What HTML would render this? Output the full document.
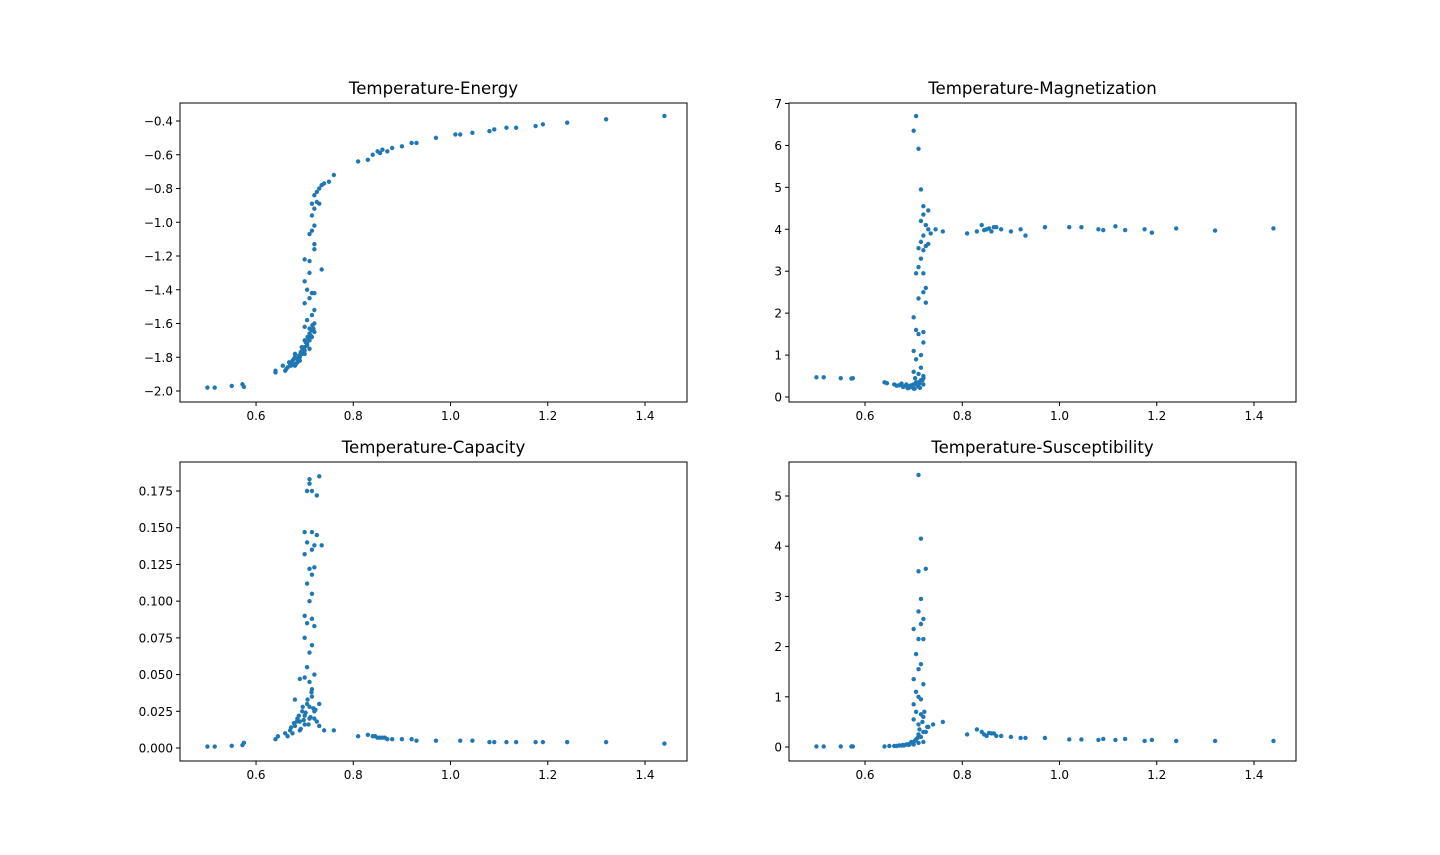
<!DOCTYPE html>
<html><head><meta charset="utf-8">
<style>
html,body{margin:0;padding:0;background:#fff;}
svg{display:block;font-family:"DejaVu Sans","Liberation Sans",sans-serif;}
</style></head>
<body>
<svg id="fig" width="1440" height="855" viewBox="0 0 1440 855" xmlns="http://www.w3.org/2000/svg"></svg>
<script>
const xTicks=[0.6,0.8,1.0,1.2,1.4];
const xTickLabels=["0.6","0.8","1.0","1.2","1.4"];

const energyT=[0.50,0.515,0.55,0.572,0.575,0.64,0.64,0.655,0.66,0.67,0.675,0.68,0.685,0.69,0.695,0.70,0.705,0.71,0.715,0.72,0.70,0.71,0.69,0.68,0.72,0.71,0.70,0.705,0.715,0.72,0.70,0.71,0.715,0.705,0.72,0.70,0.71,0.735,0.70,0.71,0.72,0.72,0.71,0.715,0.72,0.715,0.72,0.715,0.725,0.73,0.72,0.725,0.73,0.735,0.74,0.75,0.76,0.81,0.83,0.84,0.85,0.855,0.86,0.87,0.88,0.90,0.92,0.93,0.97,1.01,1.02,1.045,1.08,1.09,1.115,1.135,1.175,1.19,1.24,1.32,1.44,0.665,0.675,0.685,0.695,0.70,0.705,0.69,0.68,0.70,0.71,0.672,0.678,0.688,0.692,0.698,0.702,0.708,0.712,0.718,0.682,0.694,0.706,0.714,0.716,0.662,0.668];
const energyE=[-1.98,-1.98,-1.97,-1.96,-1.975,-1.88,-1.89,-1.85,-1.88,-1.84,-1.82,-1.80,-1.83,-1.79,-1.76,-1.74,-1.72,-1.70,-1.68,-1.65,-1.78,-1.75,-1.82,-1.85,-1.60,-1.63,-1.62,-1.58,-1.55,-1.52,-1.48,-1.45,-1.42,-1.40,-1.42,-1.35,-1.30,-1.28,-1.22,-1.23,-1.16,-1.13,-1.07,-1.05,-1.02,-0.96,-0.92,-0.89,-0.88,-0.89,-0.84,-0.82,-0.80,-0.78,-0.77,-0.76,-0.72,-0.64,-0.63,-0.60,-0.58,-0.59,-0.57,-0.58,-0.56,-0.55,-0.53,-0.53,-0.50,-0.48,-0.48,-0.47,-0.46,-0.45,-0.44,-0.44,-0.43,-0.42,-0.41,-0.39,-0.37,-1.86,-1.83,-1.81,-1.78,-1.76,-1.73,-1.80,-1.78,-1.70,-1.66,-1.85,-1.81,-1.79,-1.77,-1.75,-1.71,-1.69,-1.67,-1.63,-1.84,-1.74,-1.68,-1.64,-1.61,-1.87,-1.83];

const magT=[0.50,0.515,0.55,0.572,0.575,0.64,0.645,0.66,0.67,0.68,0.69,0.70,0.71,0.72,0.675,0.695,0.705,0.715,0.72,0.71,0.70,0.715,0.705,0.715,0.70,0.72,0.71,0.705,0.72,0.70,0.71,0.725,0.72,0.725,0.705,0.72,0.71,0.715,0.72,0.71,0.725,0.73,0.715,0.72,0.735,0.73,0.725,0.715,0.72,0.73,0.72,0.715,0.71,0.70,0.705,0.745,0.76,0.81,0.83,0.84,0.85,0.86,0.87,0.88,0.90,0.92,0.93,0.97,1.02,1.045,1.08,1.09,1.115,1.135,1.175,1.19,1.24,1.32,1.44,0.685,0.695,0.70,0.71,0.72,0.665,0.678,0.688,0.692,0.698,0.702,0.708,0.712,0.718,0.703,0.713,0.845,0.855,0.865];
const magM=[0.47,0.47,0.45,0.44,0.45,0.35,0.33,0.30,0.28,0.25,0.22,0.20,0.25,0.30,0.32,0.28,0.35,0.40,0.50,0.55,0.60,0.70,0.90,1.00,1.10,1.30,1.50,1.60,1.55,1.90,2.35,2.25,2.50,2.60,2.95,2.95,3.10,3.30,3.50,3.55,3.60,3.65,3.70,3.85,3.90,4.00,4.10,4.20,4.35,4.45,4.55,4.95,5.92,6.35,6.70,4.00,3.95,3.90,3.95,4.10,4.00,3.95,4.05,4.00,3.95,4.00,3.85,4.05,4.05,4.05,4.00,3.98,4.07,3.98,4.00,3.92,4.02,3.97,4.02,0.30,0.25,0.30,0.35,0.45,0.27,0.24,0.21,0.26,0.23,0.20,0.28,0.33,0.40,0.45,0.22,3.98,4.02,4.05];

const capT=[0.50,0.515,0.55,0.572,0.575,0.64,0.645,0.66,0.67,0.68,0.685,0.69,0.695,0.70,0.705,0.71,0.715,0.72,0.725,0.73,0.74,0.76,0.68,0.69,0.70,0.71,0.715,0.705,0.72,0.71,0.70,0.715,0.705,0.715,0.70,0.72,0.71,0.715,0.705,0.715,0.71,0.72,0.70,0.705,0.715,0.72,0.735,0.70,0.715,0.725,0.705,0.715,0.71,0.71,0.725,0.73,0.81,0.83,0.84,0.85,0.86,0.87,0.88,0.90,0.92,0.93,0.97,1.02,1.045,1.08,1.09,1.115,1.135,1.175,1.19,1.24,1.32,1.44,0.675,0.69,0.70,0.71,0.72,0.73,0.665,0.672,0.678,0.688,0.692,0.698,0.702,0.708,0.712,0.718,0.722,0.684,0.696,0.706,0.714,0.845,0.855,0.865];
const capC=[0.001,0.001,0.0015,0.002,0.0035,0.006,0.008,0.010,0.012,0.015,0.020,0.018,0.025,0.022,0.030,0.028,0.035,0.020,0.018,0.015,0.012,0.012,0.033,0.047,0.048,0.045,0.040,0.055,0.050,0.065,0.075,0.070,0.085,0.088,0.090,0.083,0.100,0.105,0.112,0.118,0.122,0.123,0.132,0.140,0.135,0.138,0.138,0.147,0.147,0.145,0.175,0.175,0.180,0.183,0.172,0.185,0.008,0.009,0.008,0.007,0.007,0.006,0.006,0.006,0.006,0.005,0.005,0.005,0.005,0.004,0.004,0.004,0.004,0.004,0.004,0.004,0.004,0.003,0.010,0.012,0.016,0.020,0.025,0.030,0.008,0.014,0.017,0.022,0.013,0.019,0.024,0.016,0.021,0.027,0.026,0.018,0.028,0.033,0.038,0.008,0.007,0.007];

const susT=[0.50,0.515,0.55,0.572,0.575,0.64,0.65,0.66,0.67,0.68,0.69,0.70,0.71,0.72,0.685,0.695,0.705,0.715,0.72,0.71,0.70,0.715,0.705,0.72,0.73,0.74,0.76,0.70,0.71,0.715,0.705,0.72,0.70,0.71,0.715,0.705,0.72,0.71,0.70,0.715,0.72,0.71,0.715,0.725,0.71,0.715,0.71,0.81,0.83,0.84,0.85,0.855,0.86,0.87,0.88,0.90,0.92,0.93,0.97,1.02,1.045,1.08,1.09,1.115,1.135,1.175,1.19,1.24,1.32,1.44,0.675,0.695,0.71,0.725,0.665,0.678,0.688,0.692,0.698,0.702,0.708,0.712,0.718,0.722,0.728,0.845,0.865];
const susX=[0.01,0.01,0.01,0.01,0.01,0.01,0.02,0.02,0.03,0.03,0.04,0.05,0.08,0.10,0.05,0.10,0.15,0.20,0.30,0.45,0.55,0.65,0.70,0.60,0.40,0.45,0.50,0.85,1.00,0.95,1.10,1.25,1.35,1.55,1.65,1.85,2.15,2.15,2.35,2.45,2.55,2.70,2.95,3.55,3.50,4.15,5.42,0.25,0.35,0.30,0.22,0.28,0.27,0.22,0.22,0.20,0.18,0.18,0.18,0.15,0.15,0.14,0.16,0.14,0.16,0.12,0.14,0.12,0.12,0.12,0.03,0.08,0.25,0.30,0.02,0.04,0.05,0.06,0.08,0.12,0.18,0.35,0.50,0.70,0.40,0.25,0.27];

const energyTicks=[-2.0,-1.8,-1.6,-1.4,-1.2,-1.0,-0.8,-0.6,-0.4];
const energyTickLabels=["\u22122.0","\u22121.8","\u22121.6","\u22121.4","\u22121.2","\u22121.0","\u22120.8","\u22120.6","\u22120.4"];
const magTicks=[0,1,2,3,4,5,6,7];
const magTickLabels=["0","1","2","3","4","5","6","7"];
const capTicks=[0,0.025,0.05,0.075,0.1,0.125,0.15,0.175];
const capTickLabels=["0.000","0.025","0.050","0.075","0.100","0.125","0.150","0.175"];
const susTicks=[0,1,2,3,4,5];
const susTickLabels=["0","1","2","3","4","5"];

const NS="http://www.w3.org/2000/svg";
const svg=document.getElementById('fig');
function mk(tag,attrs,parent){const e=document.createElementNS(NS,tag);for(const k in attrs)e.setAttribute(k,attrs[k]);(parent||svg).appendChild(e);return e;}

function panel(cfg){
  const g=mk('g',{});
  
  
  const L=cfg.L,R=cfg.R,T=cfg.T,B=cfg.B;
  const xs=v=>L+(v-cfg.xmin)/(cfg.xmax-cfg.xmin)*(R-L);
  const ys=v=>B-(v-cfg.ymin)/(cfg.ymax-cfg.ymin)*(B-T);
  const t=mk('text',{x:(L+R)/2,y:T-9,'text-anchor':'middle','font-size':16.6,fill:'#000'},g);
  t.textContent=cfg.title;
  
  
  for(let i=0;i<cfg.xd.length;i++){
    const c=mk('circle',{cx:xs(cfg.xd[i]).toFixed(2),cy:ys(cfg.yd[i]).toFixed(2),r:2.2,fill:'#1f77b4'},g);
    
    
  }
  const fr=mk('rect',{x:L,y:T,width:R-L,height:B-T,fill:'none',stroke:'#000','stroke-width':1},g);
  
  
  xTicks.forEach((v,i)=>{
    const x=xs(v);
    mk('line',{x1:x,y1:B,x2:x,y2:B+4,stroke:'#000','stroke-width':1},g);
    const tx=mk('text',{x:x,y:B+18,'text-anchor':'middle','font-size':12,fill:'#000'},g);
    tx.textContent=xTickLabels[i];
    
    
  });
  cfg.yt.forEach((v,i)=>{
    const y=ys(v);
    mk('line',{x1:L-4,y1:y,x2:L,y2:y,stroke:'#000','stroke-width':1},g);
    const ty=mk('text',{x:L-7,y:y+4.5,'text-anchor':'end','font-size':12,fill:'#000'},g);
    ty.textContent=cfg.ytl[i];
    
    
  });
}
const xmin=0.4436,xmax=1.4864;
panel({name:'energy-panel',title:'Temperature-Energy',L:180,R:687,T:103,B:402,xmin,xmax,ymin:-2.0-(402-391)/168.75,ymax:-0.4+(121-103)/168.75,xd:energyT,yd:energyE,yt:energyTicks,ytl:energyTickLabels});
panel({name:'magnetization-panel',title:'Temperature-Magnetization',L:789,R:1296,T:103,B:402,xmin,xmax,ymin:-5/42,ymax:7+0.5/42,xd:magT,yd:magM,yt:magTicks,ytl:magTickLabels});
panel({name:'capacity-panel',title:'Temperature-Capacity',L:180,R:687,T:462,B:761,xmin,xmax,ymin:-13/1468.6,ymax:(761-462-13)/1468.6,xd:capT,yd:capC,yt:capTicks,ytl:capTickLabels});
panel({name:'susceptibility-panel',title:'Temperature-Susceptibility',L:789,R:1296,T:462,B:761,xmin,xmax,ymin:-14/50.2,ymax:(761-462-14)/50.2,xd:susT,yd:susX,yt:susTicks,ytl:susTickLabels});
</script>
</body></html>
